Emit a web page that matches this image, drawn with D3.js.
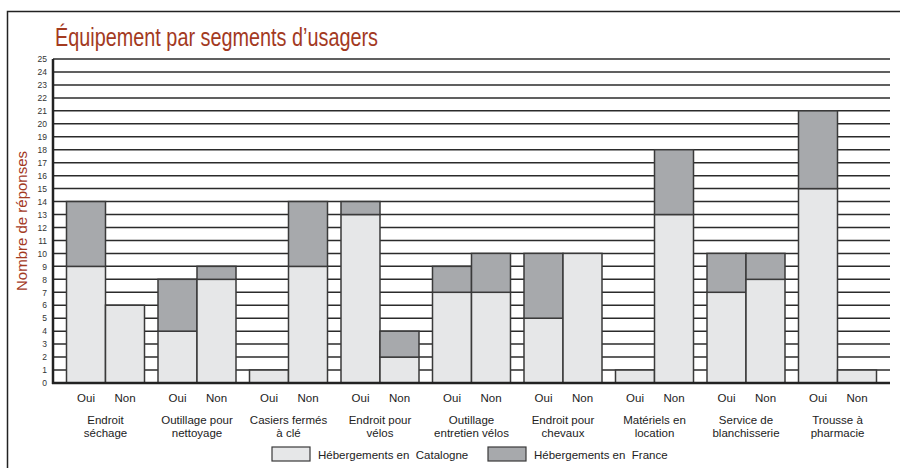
<!DOCTYPE html>
<html>
<head>
<meta charset="utf-8">
<script src="https://cdn.jsdelivr.net/npm/d3@7"></script>
<style>
  body { margin: 0; background: #fff; }
  svg { display: block; font-family: "Liberation Sans", Arial, sans-serif; }
</style>
</head>
<body>
<div id="chart"></div>
<script>
// categories (two lines each) and answers
var categories = [
  ["Endroit", "séchage"],
  ["Outillage pour", "nettoyage"],
  ["Casiers fermés", "à clé"],
  ["Endroit pour", "vélos"],
  ["Outillage", "entretien vélos"],
  ["Endroit pour", "chevaux"],
  ["Matériels en", "location"],
  ["Service de", "blanchisserie"],
  ["Trousse à", "pharmacie"]
];
var answers = ["Oui", "Non"];

// values per category: [Oui, Non]
var catalogne = [[9, 6], [4, 8], [1, 9], [13, 2], [7, 7], [5, 10], [1, 13], [7, 8], [15, 1]];
var france    = [[5, 0], [4, 1], [0, 5], [1, 2], [2, 3], [5, 0], [0, 5], [3, 2], [6, 0]];

var seriesNames = ["Hébergements en  Catalogne", "Hébergements en  France"];
var seriesColors = ["#e6e7e8", "#a7a9ac"];
var yTicks = d3.range(0, 26);

var W = 900, H = 468;
var margin = {top: 59, right: 10, bottom: 85, left: 53},
    width = 890 - margin.left,
    height = 383 - margin.top;

var svg = d3.select("#chart").append("svg")
    .attr("width", W)
    .attr("height", H);

// frame (only top + left edges visible)
svg.append("path")
    .attr("d", "M7.5," + H + "V11.5H" + W)
    .attr("fill", "none")
    .attr("stroke", "#222")
    .attr("stroke-width", 1.5);

// title - condensed face, squeezed to the reference width
svg.append("text")
    .attr("x", 55)
    .attr("y", 46)
    .attr("textLength", 323)
    .attr("lengthAdjust", "spacingAndGlyphs")
    .style("font-size", "25px")
    .attr("fill", "#a33a1f")
    .text("Équipement par segments d’usagers");

var g = svg.append("g")
    .attr("transform", "translate(" + margin.left + "," + margin.top + ")");

var x0 = d3.scaleBand()
    .domain(d3.range(categories.length))
    .range([0, width])
    .paddingInner(0.1475)
    .paddingOuter(0.1475);

var x1 = d3.scaleBand()
    .domain(answers)
    .range([0, x0.bandwidth()]);

var y = d3.scaleLinear()
    .domain([0, 25])
    .range([height, 0]);

// grid lines
g.selectAll(".grid")
    .data(yTicks.slice(1))
  .enter().append("line")
    .attr("class", "grid")
    .attr("x1", 0)
    .attr("x2", width)
    .attr("y1", function(d){ return y(d); })
    .attr("y2", function(d){ return y(d); })
    .attr("stroke", "#2b2b2b")
    .attr("stroke-width", 1.5);

// y axis labels
var yAxis = d3.axisLeft(y)
    .tickValues(yTicks)
    .tickSize(0)
    .tickPadding(6);

var ya = g.append("g").call(yAxis);
ya.select(".domain").remove();
ya.selectAll("text")
    .style("font-size", "8.5px")
    .attr("fill", "#333");

// bars
var groups = g.selectAll(".cat")
    .data(categories)
  .enter().append("g")
    .attr("class", "cat")
    .attr("transform", function(d, i){ return "translate(" + x0(i) + ",0)"; });

groups.each(function(d, i) {
  var grp = d3.select(this);
  answers.forEach(function(a, j) {
    var c = catalogne[i][j], f = france[i][j];
    grp.append("rect")
      .attr("x", x1(a))
      .attr("y", y(c))
      .attr("width", x1.bandwidth())
      .attr("height", y(0) - y(c))
      .attr("fill", seriesColors[0])
      .attr("stroke", "#3a3a3a")
      .attr("stroke-width", 1.5);
    if (f > 0) {
      grp.append("rect")
        .attr("x", x1(a))
        .attr("y", y(c + f))
        .attr("width", x1.bandwidth())
        .attr("height", y(c) - y(c + f))
        .attr("fill", seriesColors[1])
        .attr("stroke", "#3a3a3a")
        .attr("stroke-width", 1.5);
    }
    grp.append("text")
      .attr("x", x1(a) + x1.bandwidth() / 2)
      .attr("y", height + 19)
      .attr("text-anchor", "middle")
      .style("font-size", "11.5px")
      .attr("fill", "#222")
      .text(a);
  });
  grp.selectAll(".lbl")
    .data(d)
  .enter().append("text")
    .attr("x", x0.bandwidth() / 2)
    .attr("y", function(t, k){ return height + 41 + k * 13; })
    .attr("text-anchor", "middle")
    .style("font-size", "11.5px")
    .attr("fill", "#222")
    .text(function(t){ return t; });
});

// axis lines
g.append("line")
    .attr("x1", 0).attr("x2", 0)
    .attr("y1", 0).attr("y2", height + 1)
    .attr("stroke", "#222").attr("stroke-width", 2.5);
g.append("line")
    .attr("x1", -1).attr("x2", width)
    .attr("y1", height).attr("y2", height)
    .attr("stroke", "#222").attr("stroke-width", 2.5);

// y title
svg.append("text")
    .attr("transform", "translate(27," + (margin.top + height / 2) + ") rotate(-90)")
    .attr("text-anchor", "middle")
    .style("font-size", "15px")
    .attr("fill", "#a33a1f")
    .text("Nombre de réponses");

// legend
var legendX = [272, 488];
var legend = svg.selectAll(".legend")
    .data(seriesNames)
  .enter().append("g")
    .attr("class", "legend")
    .attr("transform", function(d, i){ return "translate(" + legendX[i] + ",447)"; });

legend.append("rect")
    .attr("width", 38)
    .attr("height", 14)
    .attr("fill", function(d, i){ return seriesColors[i]; })
    .attr("stroke", "#3a3a3a")
    .attr("stroke-width", 1.2);

legend.append("text")
    .attr("x", 46)
    .attr("y", 11.5)
    .style("font-size", "11.5px")
    .style("white-space", "pre")
    .attr("fill", "#222")
    .text(function(d){ return d; });
</script>
</body>
</html>
